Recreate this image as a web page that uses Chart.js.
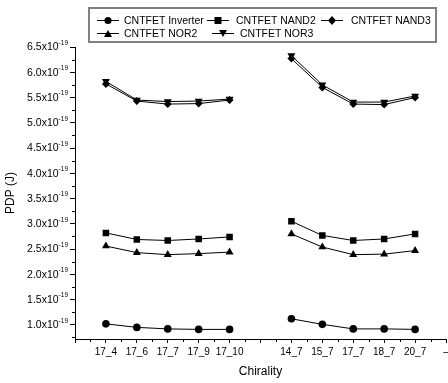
<!DOCTYPE html>
<html>
<head>
<meta charset="utf-8">
<script src="https://cdn.jsdelivr.net/npm/chart.js@4/dist/chart.umd.min.js"></script>
<style>
  html, body { margin: 0; padding: 0; background: #fff; }
  #wrap { position: relative; width: 448px; height: 383px; }
  #legendBox {
    position: absolute; left: 88px; top: 7px; width: 345px; height: 32px;
    border: 2px solid #808080;
  }
  .lg-text {
    position: absolute; white-space: nowrap; line-height: 12px; height: 12px;
    font: 10.5px "Liberation Sans", Arial, sans-serif; color: #000;
  }
  .lg-icon { position: absolute; }
</style>
</head>
<body>
<div id="wrap">
  <canvas id="chart" width="448" height="383"></canvas>
  <div id="legendBox"></div>
</div>
<script>
// ── Data (PDP in units of 1e-19 J) ───────────────────────────
const categories = ['', '17_4', '17_6', '17_7', '17_9', '17_10', '', '14_7', '15_7', '17_7', '18_7', '20_7', '–'];

const inverterPdp = [null, 1.02, 0.95, 0.92, 0.91, 0.91, null, 1.12, 1.01, 0.92, 0.92, 0.91, null];
const nand2Pdp    = [null, 2.82, 2.69, 2.67, 2.70, 2.74, null, 3.05, 2.77, 2.67, 2.70, 2.80, null];
const nand3Pdp    = [null, 5.77, 5.43, 5.37, 5.38, 5.45, null, 6.27, 5.70, 5.37, 5.36, 5.50, null];
const nor2Pdp     = [null, 2.56, 2.43, 2.39, 2.41, 2.44, null, 2.80, 2.54, 2.39, 2.40, 2.47, null];
const nor3Pdp     = [null, 5.82, 5.45, 5.42, 5.43, 5.47, null, 6.33, 5.75, 5.41, 5.41, 5.53, null];

const yTicks = [1.0, 1.5, 2.0, 2.5, 3.0, 3.5, 4.0, 4.5, 5.0, 5.5, 6.0, 6.5];

// ── Series styling ───────────────────────────────────────────
const series = [
  { label: 'CNTFET Inverter', data: inverterPdp, style: 'circle',   r: 3.8, rot: 0   },
  { label: 'CNTFET NAND2',    data: nand2Pdp,    style: 'rect',     r: 4.6, rot: 0   },
  { label: 'CNTFET NAND3',    data: nand3Pdp,    style: 'rectRot',  r: 4,   rot: 0   },
  { label: 'CNTFET NOR2',     data: nor2Pdp,     style: 'triangle', r: 4.6, rot: 0   },
  { label: 'CNTFET NOR3',     data: nor3Pdp,     style: 'triangle', r: 4.6, rot: 180 },
];

// ── Legend: icon x, text x, row centre y ─────────────────────
const legendSlots = [[97, 124, 20], [207, 236, 20], [321, 351, 20], [97, 124, 33], [212, 240, 33]];

function drawIcon(s) {
  const c = document.createElement('canvas');
  c.width = 22; c.height = 11;
  const g = c.getContext('2d');
  g.strokeStyle = '#000'; g.fillStyle = '#000'; g.lineWidth = 1;
  g.beginPath(); g.moveTo(0, 5.5); g.lineTo(22, 5.5); g.stroke();
  const cx = 11, cy = 5.5;
  g.beginPath();
  if (s.style === 'circle') {
    g.arc(cx, cy, 3.6, 0, Math.PI * 2);
  } else if (s.style === 'rect') {
    g.rect(cx - 3.5, cy - 3.5, 7, 7);
  } else if (s.style === 'rectRot') {
    g.moveTo(cx, cy - 4.5); g.lineTo(cx + 4, cy); g.lineTo(cx, cy + 4.5); g.lineTo(cx - 4, cy);
  } else if (s.rot === 180) {
    g.moveTo(cx - 4, cy - 3.5); g.lineTo(cx + 4, cy - 3.5); g.lineTo(cx, cy + 3.5);
  } else {
    g.moveTo(cx - 4, cy + 3.5); g.lineTo(cx + 4, cy + 3.5); g.lineTo(cx, cy - 3.5);
  }
  g.closePath(); g.fill();
  return c;
}

const wrap = document.getElementById('wrap');
series.forEach((s, i) => {
  const [ix, tx, cy] = legendSlots[i];
  const icon = drawIcon(s);
  icon.className = 'lg-icon';
  icon.style.left = ix + 'px';
  icon.style.top = (cy - 5.5) + 'px';
  wrap.appendChild(icon);
  const t = document.createElement('div');
  t.className = 'lg-text';
  t.textContent = s.label;
  t.style.left = tx + 'px';
  t.style.top = (cy - 6) + 'px';
  wrap.appendChild(t);
});

// ── Minor ticks + y labels with superscript exponent ─────────
const axisExtras = {
  id: 'axisExtras',
  afterDraw(chart) {
    const { ctx, scales: { x, y } } = chart;
    ctx.save();
    ctx.strokeStyle = '#000';
    ctx.lineWidth = 1;
    ctx.beginPath();
    for (let i = 0; i < categories.length - 1; i++) {
      const px = Math.round((x.getPixelForTick(i) + x.getPixelForTick(i + 1)) / 2) + 0.5;
      ctx.moveTo(px, y.bottom);
      ctx.lineTo(px, y.bottom + 3);
    }
    for (let v = yTicks[0] - 0.25; v < yTicks[yTicks.length - 1]; v += 0.5) {
      if (v < y.min) continue;
      const py = Math.round(y.getPixelForValue(v)) + 0.5;
      ctx.moveTo(x.left, py);
      ctx.lineTo(x.left - 3, py);
    }
    ctx.stroke();

    ctx.fillStyle = '#000';
    ctx.textBaseline = 'middle';
    ctx.textAlign = 'right';
    const right = y.right - 7;
    yTicks.forEach(v => {
      const py = y.getPixelForValue(v);
      ctx.font = '6.5px "Liberation Sans", Arial, sans-serif';
      const supW = ctx.measureText('-19').width;
      ctx.fillText('-19', right, py - 4);
      ctx.font = '10.5px "Liberation Sans", Arial, sans-serif';
      ctx.fillText(v.toFixed(1) + 'x10', right - supW, py + 0.5);
    });
    ctx.restore();
  }
};

const font = { family: '"Liberation Sans", Arial, sans-serif' };

new Chart(document.getElementById('chart'), {
  type: 'line',
  data: {
    labels: categories,
    datasets: series.map(s => ({
      label: s.label,
      data: s.data,
      borderColor: '#000',
      backgroundColor: '#000',
      borderWidth: 1,
      pointStyle: s.style,
      // empty edge slots get no radius so the layout adds no overflow padding
      pointRadius: ctx => (s.data[ctx.dataIndex] == null ? 0 : s.r),
      pointHoverRadius: 0,
      pointRotation: s.rot,
      pointBorderWidth: 0,
      spanGaps: false,
      tension: 0,
    })),
  },
  options: {
    responsive: false,
    animation: false,
    events: [],
    layout: { padding: { top: 47, right: 0, left: 0, bottom: 0 } },
    plugins: { legend: { display: false }, tooltip: { enabled: false } },
    scales: {
      x: {
        type: 'category',
        offset: false,
        grid: { drawOnChartArea: false, tickLength: 4, tickColor: '#000' },
        border: { color: '#000', width: 1 },
        ticks: { color: '#000', font: { ...font, size: 10 }, padding: 3, autoSkip: false, maxRotation: 0 },
        title: { display: true, text: 'Chirality', color: '#000', font: { ...font, size: 12 }, padding: { top: 2 } },
        afterFit(scale) { scale.height = 44; scale.paddingRight = 2; },
      },
      y: {
        min: 0.72,
        max: 6.5,
        afterBuildTicks(scale) { scale.ticks = yTicks.map(v => ({ value: v })); },
        grid: { drawOnChartArea: false, tickLength: 5, tickColor: '#000' },
        border: { color: '#000', width: 1 },
        ticks: { display: false },
        title: { display: true, text: 'PDP (J)', color: '#000', font: { ...font, size: 12 }, padding: { top: 3, bottom: 0 } },
        afterFit(scale) { scale.width = 75; },
      },
    },
  },
  plugins: [axisExtras],
});
</script>
</body>
</html>
